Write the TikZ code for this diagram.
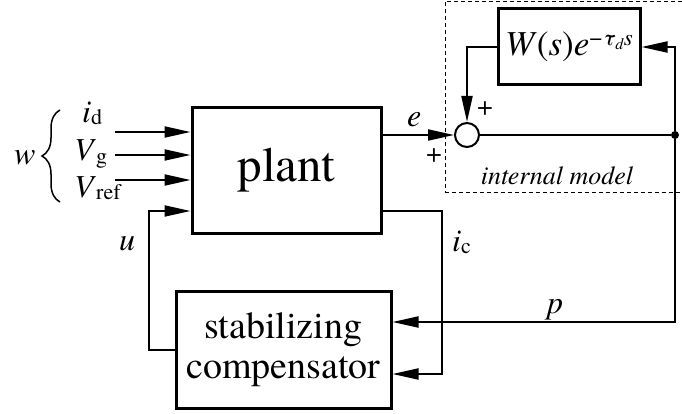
\documentclass[tikz,border=0pt]{standalone}
\usepackage{fontspec}
\setmainfont{texgyretermes}[Extension=.otf, UprightFont=*-regular, ItalicFont=*-italic, BoldFont=*-bold, BoldItalicFont=*-bolditalic]
\usetikzlibrary{arrows.meta,decorations.pathreplacing}
\newcommand\fsz[1]{\fontsize{#1pt}{#1pt}\selectfont}
\begin{document}
\begin{tikzpicture}[x=1pt,y=-1pt,
 blk/.style={draw, line width=3pt, inner sep=0pt, align=center},
 conn/.style={line width=2pt},
 arr/.style={conn, -{Triangle[length=26pt,width=11pt]}},
 lbl/.style={anchor=base west, inner sep=0pt, font=\fsz{32}},
 imbox/.style={line width=1pt, dash pattern=on 4pt off 3pt},
]
\useasboundingbox (0,0) rectangle (682,414);
% blocks
\node[blk, minimum width=189pt, minimum height=125pt, font=\fsz{49}] (plant) at (286.5,170.5) {plant};
\node[blk, minimum width=215pt, minimum height=117pt, font=\fsz{38}] (comp) at (283.5,349.5) {stabilizing\\[2pt]compensator};
\node[blk, minimum width=142pt, minimum height=76pt, font=\fsz{35}] (W) at (569,47)
  {\textit{W}(\textit{s})\textit{e}\raisebox{10pt}{\fsz{23}\textminus\textit{τ}\raisebox{-4pt}{\fsz{16}\textit{d}}\textit{s}}};
\node[circle, draw, line width=2pt, minimum size=24pt, inner sep=0pt] (sum) at (467,135) {};
\node[circle, fill, minimum size=8pt, inner sep=0pt] (dot) at (675,135) {};
% internal model frame
\coordinate (imTL) at (445,1.5);
\coordinate (imBL) at (445,192);
\coordinate (imTR) at (682,1.5);
\coordinate (imBR) at (682,192);
\draw[imbox] (imTR) -- (imTL) -- (imBL) -- (imBR);
\node[anchor=base, inner sep=0pt, font=\fsz{26}\itshape] (imlbl) at (557,185) {internal model};
% inputs
\coordinate (in1) at (115,132);
\coordinate (in2) at (115,155);
\coordinate (in3) at (115,180);
\draw[arr] (in1) -- (in1 -| plant.west);
\draw[arr] (in2) -- (in2 -| plant.west);
\draw[arr] (in3) -- (in3 -| plant.west);
\node[lbl] (lid) at (82,123) {\textit{i}\raisebox{-2pt}{\fsz{22}d}};
\node[lbl] (lvg) at (74,161) {\textit{V}\raisebox{-2pt}{\fsz{22}g}};
\node[lbl] (lvr) at (74,197) {\textit{V}\raisebox{-2pt}{\fsz{22}ref}};
\coordinate (brB) at (60,202);
\coordinate (brT) at (60,110);
\draw[line width=1.5pt, decorate, decoration={brace, amplitude=18pt}] (brB) -- (brT);
\node[lbl] (lw) at (14,165) {\textit{w}};
% u feedback
\coordinate (uL) at (149,211);
\draw[arr] (comp.west) -| (uL) -- (uL -| plant.west);
\node[lbl] (lu) at (119,250) {\textit{u}};
% ic
\coordinate (icT) at (442,211);
\coordinate (icB) at (442,374);
\draw[arr] (icT -| plant.east) -- (icT) -- (icB) -- (icB -| comp.east);
\node[lbl] (lic) at (452,251) {\textit{i}\raisebox{-2pt}{\fsz{22}c}};
% e path
\draw[arr] (sum -| plant.east) -- (sum.west);
\node[lbl] (le) at (407,127) {\textit{e}};
\node[anchor=base, inner sep=0pt, font=\fsz{28}] (pl1) at (434,163) {+};
\node[anchor=base, inner sep=0pt, font=\fsz{28}] (pl2) at (485,116) {+};
\draw[conn] (sum.east) -- (dot);
\draw[arr] (dot) |- (W.east);
\draw[arr] (W.west) -| (sum.north);
% p
\coordinate (pR) at (675,322);
\draw[arr] (dot) -- (pR) -- (pR -| comp.east);
\node[lbl] (lp) at (547,313) {\textit{p}};
\end{tikzpicture}
\end{document}
